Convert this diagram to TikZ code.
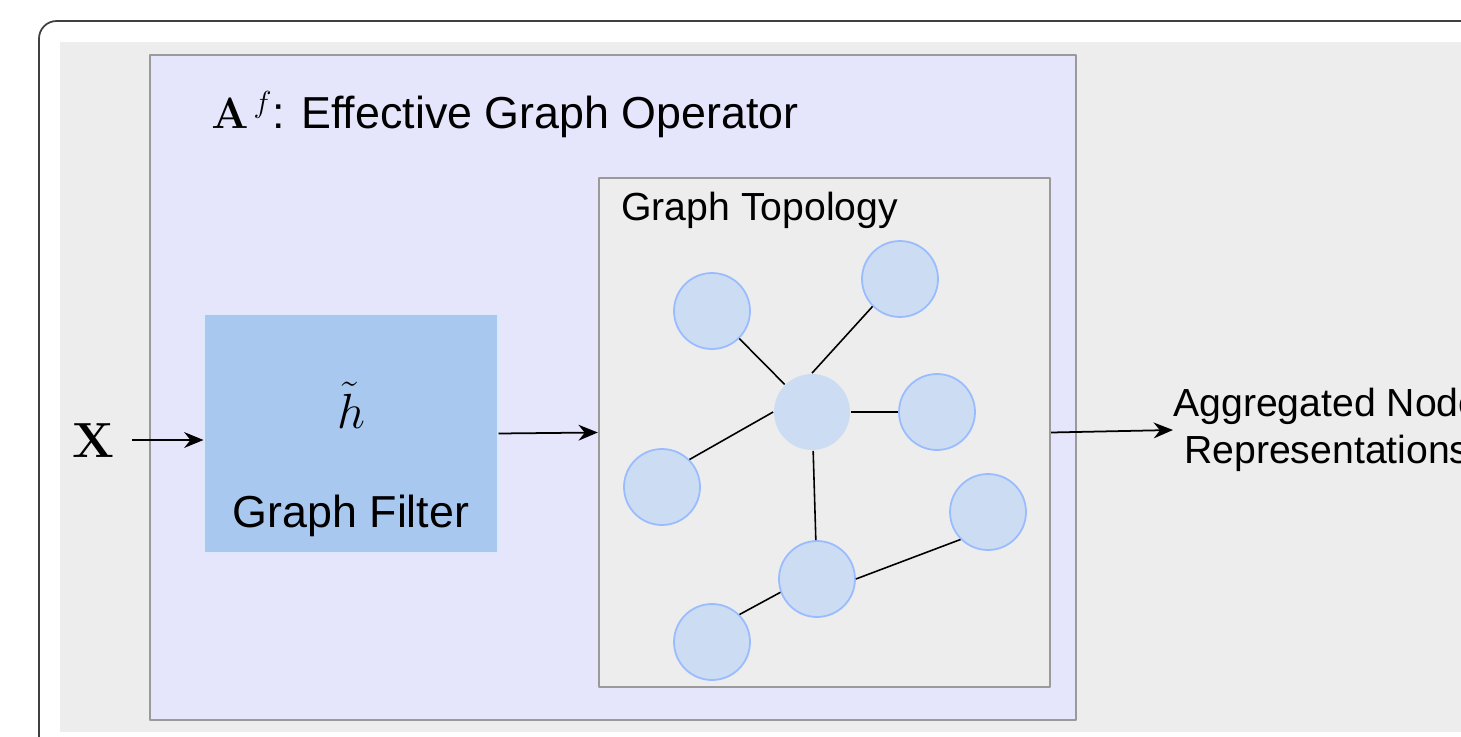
\documentclass[tikz,border=0pt]{standalone}
\usepackage[no-math]{fontspec}
\setmainfont{Liberation Sans}
\usetikzlibrary{arrows.meta}
\definecolor{panelgray}{HTML}{EDEDED}
\definecolor{lavender}{HTML}{E5E5FC}
\definecolor{boxline}{HTML}{9A9A9A}
\definecolor{filterblue}{HTML}{A9C8F0}
\definecolor{vertexfill}{HTML}{CCDCF2}
\definecolor{vertexline}{HTML}{99BBFF}
\tikzset{
  vertex/.style={circle, fill=vertexfill, draw=vertexline, line width=1pt, minimum size=1.52cm, inner sep=0pt},
  edge/.style={line width=0.9pt},
  bigtext/.style={font=\fontsize{25.5}{30}\selectfont, inner sep=0pt},
  midtext/.style={font=\fontsize{22.3}{27}\selectfont, inner sep=0pt},
  symbol/.style={font=\fontsize{24.88}{30}\selectfont, scale=1.13, inner sep=0pt}
}
\begin{document}
\begin{tikzpicture}[x=0.02cm, y=-0.02cm, >={Stealth[length=11pt,width=9pt]}, line join=round]
	\useasboundingbox (0,0) rectangle (1461,737);
	\clip (0,0) rectangle (1461,737);
	% frame and backdrop
	\draw[line width=1pt, black!75, rounded corners=10] (39,780) -- (39,21) -- (1500,21);
	\fill[panelgray] (60,42) rectangle (1500,732);
	% boxes
	\node[draw=boxline, line width=1.4pt, fill=lavender, minimum width=18.52cm, minimum height=13.3cm] (op) at (613,387.5) {};
	\node[draw=boxline, line width=1.4pt, fill=panelgray, minimum width=9.02cm, minimum height=10.18cm] (topo) at (824.5,432.5) {};
	\node[draw=white!60!filterblue, line width=0.6pt, fill=filterblue, minimum width=5.88cm, minimum height=4.78cm] (filter) at (351,433.5) {};
	% texts
	\node[bigtext, anchor=base west] (optitle) at (211,128) {$\mathbf{A}^{\,f}$: Effective Graph Operator};
	\node[midtext, anchor=base west] (topotitle) at (621,220) {Graph Topology};
	\node[symbol, anchor=base] (hfilt) at (351,428) {$\tilde{h}$};
	\node[bigtext, anchor=base] (filtname) at (351,527) {Graph Filter};
	\node[symbol, anchor=base] (x) at (93,457) {$\mathbf{X}$};
	\node[midtext, anchor=west, align=center] (out) at (1173,430) {Aggregated Node\\Representations};
	% flow
	\coordinate (xin) at (132,440);
	\draw[->, line width=1pt] (xin) -- (xin -| filter.west);
	\draw[->, line width=1pt] (filter.east) -- (topo.west);
	\draw[->, line width=1pt] (topo.east) -- (out.west);
	% graph
	\node[vertex, draw=none] (c) at (812,412) {};
	\node[vertex] (tl) at (712,311) {};
	\node[vertex] (tr) at (900,279) {};
	\node[vertex] (r) at (937,412) {};
	\node[vertex] (l) at (662,487) {};
	\node[vertex] (br) at (988,512) {};
	\node[vertex] (b) at (817,579) {};
	\node[vertex] (bl) at (712,642) {};
	\draw[edge] (c) -- (tl);
	\draw[edge] (c.north) -- (tr.south west);
	\draw[edge] (c) -- (r);
	\draw[edge] (c.west) -- (l.north east);
	\draw[edge] (c) -- (b);
	\draw[edge] (b.east) -- (br.south west);
	\draw[edge] (b.200) -- (bl.north east);
\end{tikzpicture}
\end{document}
